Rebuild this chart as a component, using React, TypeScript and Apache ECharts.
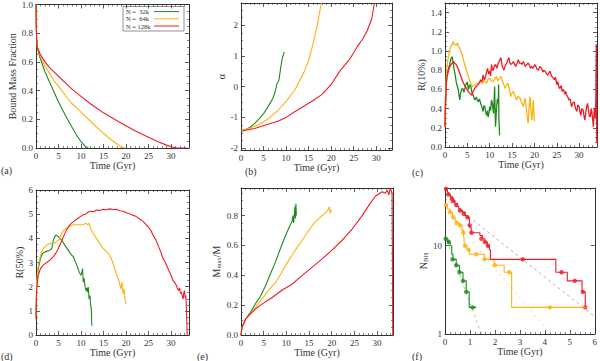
import React, { useEffect, useRef } from 'react';
import * as echarts from 'echarts';

const FONT = "'Liberation Serif', 'DejaVu Serif', serif";
const C_GREEN = '#1e8a1e';
const C_ORANGE = '#fcb414';
const C_RED = '#ee1c24';

const legendLabels = ['N =  32k', 'N =  64k', 'N = 128k'];
const panelLabels = ['(a)', '(b)', '(c)', '(d)', '(e)', '(f)'];

// (a) Bound mass fraction
const massGreen = [[0,1],[0.05,0.86],[0.15,0.76],[0.3,0.7],[0.6,0.66],[1,0.62],[2,0.53],[3,0.46],[4,0.39],[5,0.32],[6,0.26],[7,0.2],[8,0.145],[9,0.09],[10,0.045],[11,0.01],[11.6,0]];
const massOrange = [[0,1],[0.05,0.86],[0.15,0.76],[0.3,0.7],[1,0.64],[2,0.57],[3,0.52],[4,0.47],[5,0.43],[6,0.39],[7,0.345],[8,0.31],[9,0.28],[10,0.25],[12,0.19],[14,0.13],[16,0.075],[18,0.028],[19,0.006],[19.8,0]];
const massRed = [[0,1],[0.05,0.86],[0.15,0.76],[0.3,0.7],[1,0.65],[2,0.6],[3,0.56],[4,0.53],[5,0.5],[6,0.47],[8,0.41],[10,0.36],[12,0.31],[15,0.245],[18,0.19],[20,0.155],[22,0.12],[25,0.075],[27,0.046],[29,0.02],[30,0.01],[31,0.002],[32,0],[33.6,0]];

// (b) alpha
const alphaGreen = [[0,-1.43],[1,-1.4],[2,-1.32],[3,-1.2],[4,-1.05],[5,-0.88],[6,-0.65],[7,-0.4],[7.5,-0.2],[8,0.1],[8.4,0.2],[8.8,0.6],[9.2,0.95],[9.6,1.12]];
const alphaOrange = [[0,-1.43],[2,-1.35],[4,-1.23],[6,-1.05],[8,-0.8],[10,-0.48],[12,-0.1],[13,0.2],[14,0.48],[15,0.85],[16,1.4],[17,2.05],[17.8,2.72]];
const alphaRed = [[0,-1.45],[3,-1.36],[6,-1.22],[8.3,-1.12],[10,-1.0],[12,-0.81],[14,-0.63],[16,-0.45],[18,-0.25],[20,0.07],[22,0.52],[24,0.87],[25,1.1],[26,1.35],[27,1.55],[28,1.82],[29,2.2],[29.6,2.72]];

// (c) R(10%)
const r10Green = [[0,0.21],[0.15,0.49],[0.35,0.73],[0.67,0.8],[1.05,0.86],[1.4,0.93],[1.6,0.94],[1.8,0.89],[2.0,0.82],[2.2,0.77],[2.5,0.68],[2.7,0.64],[2.9,0.61],[3.1,0.55],[3.3,0.49],[3.5,0.56],[3.7,0.6],[4.0,0.61],[4.2,0.57],[4.4,0.6],[4.6,0.64],[4.8,0.66],[5.0,0.68],[5.15,0.62],[5.3,0.6],[5.5,0.65],[5.8,0.63],[6.0,0.57],[6.3,0.54],[6.5,0.51],[6.7,0.49],[7.0,0.52],[7.4,0.47],[7.7,0.5],[8.0,0.45],[8.3,0.41],[8.5,0.37],[8.7,0.43],[8.9,0.42],[9.1,0.36],[9.3,0.33],[9.5,0.38],[9.65,0.31],[9.85,0.36],[10.0,0.42],[10.2,0.38],[10.4,0.49],[10.6,0.45],[10.85,0.35],[11.0,0.5],[11.1,0.63],[11.2,0.4],[11.3,0.21],[11.4,0.3],[11.5,0.385],[11.7,0.5],[11.9,0.455],[12.0,0.65],[12.05,0.3],[12.15,0.2],[12.2,0.12]];
const r10Orange = [[0,0.21],[0.1,0.5],[0.3,0.73],[0.5,0.85],[0.7,0.93],[1.0,0.98],[1.27,1.05],[1.5,1.06],[1.8,1.1],[2.0,1.07],[2.2,1.07],[2.5,1.06],[2.8,1.085],[3.0,1.05],[3.3,1.03],[3.6,0.99],[4.0,0.93],[4.4,0.86],[4.8,0.8],[5.2,0.74],[5.5,0.7],[5.8,0.66],[6.1,0.63],[6.4,0.64],[6.7,0.645],[7.0,0.66],[7.4,0.665],[7.7,0.67],[8.15,0.68],[8.4,0.66],[8.75,0.7],[9.0,0.68],[9.3,0.665],[9.6,0.7],[10,0.72],[10.3,0.69],[10.8,0.68],[11.1,0.71],[11.5,0.735],[11.8,0.69],[12.0,0.7],[12.3,0.72],[12.6,0.735],[12.9,0.68],[13.1,0.66],[13.4,0.61],[13.7,0.64],[14.1,0.665],[14.4,0.6],[14.7,0.525],[15.0,0.56],[15.3,0.58],[15.6,0.54],[16.0,0.49],[16.3,0.53],[16.75,0.51],[17.1,0.47],[17.5,0.42],[17.7,0.46],[17.9,0.51],[18.1,0.44],[18.25,0.385],[18.4,0.3],[18.6,0.245],[18.8,0.4],[19.0,0.525],[19.2,0.42],[19.4,0.28],[19.6,0.36],[19.75,0.49],[19.9,0.32],[20.0,0.27]];
const r10Red = [[0,0.21],[0.1,0.45],[0.25,0.62],[0.45,0.73],[0.8,0.8],[1.1,0.84],[1.4,0.86],[1.7,0.88],[1.95,0.89],[2.2,0.87],[2.5,0.86],[2.9,0.82],[3.3,0.77],[3.6,0.73],[4.0,0.68],[4.4,0.64],[4.8,0.61],[5.2,0.58],[5.5,0.56],[5.8,0.55],[6.05,0.54],[6.3,0.58],[6.65,0.61],[7.0,0.63],[7.4,0.65],[7.7,0.67],[8.0,0.7],[8.3,0.68],[8.5,0.75],[8.8,0.7],[9.0,0.72],[9.3,0.78],[9.5,0.82],[9.8,0.76],[10,0.79],[10.2,0.74],[10.4,0.86],[10.6,0.8],[10.8,0.8],[11.0,0.84],[11.3,0.86],[11.6,0.82],[11.9,0.875],[12.2,0.9],[12.5,0.93],[12.8,0.84],[13.0,0.82],[13.2,0.8],[13.5,0.85],[13.8,0.875],[14.0,0.9],[14.3,0.93],[14.5,0.88],[14.7,0.86],[15.0,0.87],[15.3,0.89],[15.6,0.86],[15.8,0.84],[16.1,0.87],[16.4,0.91],[16.7,0.87],[17.0,0.875],[17.2,0.86],[17.5,0.89],[17.8,0.86],[18.0,0.84],[18.3,0.86],[18.6,0.875],[18.9,0.85],[19.1,0.82],[19.4,0.84],[19.7,0.82],[20.1,0.86],[20.4,0.83],[20.6,0.81],[20.9,0.8],[21.2,0.84],[21.6,0.82],[21.9,0.78],[22.1,0.8],[22.4,0.79],[22.7,0.76],[23.0,0.75],[23.2,0.77],[23.5,0.79],[23.8,0.74],[24.2,0.72],[24.5,0.7],[24.7,0.73],[25.0,0.65],[25.2,0.68],[25.5,0.62],[25.7,0.61],[26.0,0.64],[26.2,0.58],[26.5,0.6],[26.8,0.55],[27.0,0.58],[27.2,0.54],[27.5,0.52],[27.7,0.49],[28.0,0.5],[28.3,0.42],[28.6,0.46],[28.9,0.47],[29.2,0.4],[29.5,0.37],[29.7,0.44],[30.0,0.42],[30.2,0.36],[30.4,0.33],[30.6,0.4],[30.9,0.385],[31.1,0.32],[31.3,0.28],[31.5,0.36],[31.7,0.42],[31.9,0.455],[32.1,0.38],[32.3,0.32],[32.5,0.315],[32.7,0.4],[32.8,0.385],[33.0,0.3],[33.2,0.21],[33.4,0.4],[33.6,0.3],[33.75,0.5],[33.85,1.07],[33.95,0.05]];

// (d) R(50%)
const r50Green = [[0,0.8],[0.15,2.05],[0.5,2.75],[1.0,3.17],[1.5,3.38],[2.0,3.44],[2.5,3.47],[3.0,3.5],[3.5,3.58],[3.85,3.93],[4.4,4.14],[5.0,4.07],[5.7,3.93],[6.4,3.72],[7.2,3.5],[7.9,3.3],[8.3,3.25],[8.6,3.1],[9.2,2.82],[9.6,2.6],[10.0,2.47],[10.2,2.6],[10.35,2.75],[10.5,2.19],[10.7,2.35],[10.9,2.0],[11.1,1.84],[11.3,1.95],[11.4,1.77],[11.6,1.98],[11.8,1.49],[12.0,1.63],[12.1,1.3],[12.3,1.07],[12.4,0.38]];
const r50Orange = [[0,0.8],[0.15,2.19],[0.5,2.89],[1,3.3],[1.6,3.58],[2.4,3.72],[3.1,3.79],[3.85,3.79],[4.6,3.86],[5.3,4.0],[5.7,4.21],[6.2,4.35],[6.8,4.42],[7.5,4.49],[8.3,4.56],[9,4.56],[9.75,4.56],[10.5,4.56],[11.1,4.63],[11.45,4.56],[11.8,4.63],[12.1,4.42],[12.7,4.21],[13.45,4.0],[14.2,3.79],[14.9,3.58],[15.7,3.44],[16.4,3.3],[17,3.03],[17.5,2.75],[18,2.47],[18.5,2.19],[18.85,1.91],[19.1,2.19],[19.35,1.7],[19.55,1.91],[19.8,1.49],[20,1.28]];
const r50Red = [[0,0.65],[0.15,1.91],[0.5,2.47],[1,2.75],[1.6,2.89],[2.4,3.0],[3.1,3.1],[3.85,3.24],[4.6,3.44],[5.3,3.72],[6.1,4.07],[6.8,4.35],[7.5,4.56],[8.4,4.7],[9.4,4.84],[10.5,4.98],[11.0,5.0],[11.6,5.09],[12.3,5.12],[12.8,5.1],[13.45,5.17],[14.2,5.15],[14.9,5.2],[15.6,5.18],[16.4,5.22],[17.1,5.19],[17.9,5.2],[18.6,5.14],[19.4,5.12],[20.1,5.06],[20.8,5.02],[21.5,4.96],[22.3,4.9],[23.0,4.8],[23.8,4.7],[24.4,4.58],[24.9,4.49],[25.5,4.33],[26,4.14],[26.6,3.95],[27.1,3.72],[27.7,3.45],[28.2,3.17],[28.6,3.05],[29,2.89],[29.4,2.72],[29.7,2.6],[30.1,2.42],[30.45,2.26],[30.8,2.18],[31.2,2.05],[31.5,1.9],[31.7,1.84],[31.9,1.95],[32.1,1.72],[32.3,1.77],[32.5,1.62],[32.7,1.49],[32.85,1.75],[33.0,1.84],[33.15,1.55],[33.3,1.63],[33.45,0.9],[33.6,0]];

// (e) Mmax/M
const mmaxGreen = [[0,0],[0.2,0.05],[1,0.106],[2.05,0.15],[3.2,0.21],[4.3,0.26],[5.4,0.33],[6.5,0.41],[7.6,0.49],[8.7,0.58],[9.4,0.635],[10.15,0.69],[10.9,0.74],[11.25,0.76],[11.45,0.8],[11.6,0.75],[11.8,0.83],[11.9,0.86],[12.0,0.78],[12.1,0.88],[12.2,0.8]];
const mmaxOrange = [[0,0],[0.2,0.05],[1,0.106],[2,0.14],[3.2,0.185],[4.6,0.24],[6.1,0.3],[7.6,0.35],[9,0.42],[10.5,0.5],[12,0.57],[13.5,0.635],[14.9,0.7],[16.4,0.76],[17.9,0.8],[19,0.83],[19.5,0.86],[19.7,0.815],[19.9,0.84]];
const mmaxRed = [[0,0],[0.2,0.05],[1,0.106],[2,0.14],[3.2,0.174],[4.6,0.207],[6.8,0.25],[9,0.3],[11.25,0.34],[13.5,0.4],[15.7,0.455],[17.9,0.51],[20.1,0.57],[22.3,0.635],[24.5,0.71],[26.7,0.8],[28.2,0.87],[29.6,0.93],[31.1,0.96],[31.8,0.95],[32.2,0.97],[32.6,0.94],[32.9,0.985],[33.3,0.95],[33.45,0]];

// (f) N_BH (log)
const nbhGreen = [[0,12],[0.12,11],[0.2,10],[0.27,8],[0.32,7],[0.45,6],[0.58,5],[0.72,4],[0.85,3],[0.97,2],[1.25,2]];
const nbhOrange = [[0,29],[0.1,26],[0.2,24],[0.3,21],[0.4,19],[0.5,18],[0.6,17],[0.68,15],[0.74,14],[0.76,12],[0.78,10],[0.88,9],[0.98,8],[1.58,7],[1.97,6],[2.37,5],[2.67,2],[5.68,2]];
const nbhRed = [[0,44],[0.05,42],[0.1,40],[0.15,38],[0.22,36],[0.28,34],[0.33,32],[0.4,30],[0.48,28],[0.55,26],[0.62,25],[0.7,24],[0.8,22],[0.88,21],[0.95,20],[0.98,17],[1.0,16],[1.05,14],[1.4,13],[1.5,12],[1.6,11],[1.7,10],[1.78,9],[1.82,7],[4.44,5],[4.9,4],[5.49,3],[5.62,2]];
const dotGreen = [[0.03,12],[0.15,11],[0.3,7],[0.45,6],[0.58,5],[0.72,4],[0.85,3],[1.11,2]];
const dotOrange = [[0.04,29],[0.2,24],[0.33,21],[0.46,18],[0.6,17],[0.73,14],[0.8,10],[0.95,9],[1.25,8],[1.58,7],[2.0,6],[2.57,5],[4.2,2]];
const dotRed = [[0.04,44],[0.13,38],[0.27,34],[0.33,32],[0.45,29],[0.6,25],[0.75,23],[0.9,21],[0.99,17],[1.06,14],[1.46,12],[1.6,11],[1.72,10],[3.12,7],[4.67,5],[5.2,4],[5.52,3],[5.62,2]];
const fitGreen = [[0,13],[1.46,1]];
const fitOrange = [[0,25.7],[4.22,1]];
const fitRed = [[0,34.8],[6,1.57]];

const grids = [
  { left: 36, top: 3, width: 153, height: 145 },
  { left: 241, top: 3, width: 151, height: 147 },
  { left: 445, top: 3, width: 152, height: 144 },
  { left: 36, top: 190, width: 153, height: 145 },
  { left: 241, top: 188, width: 152, height: 147 },
  { left: 445, top: 188, width: 152, height: 146 },
];

const INK = '#333';
const TXT = '#333';
const axisCommon = {
  axisLine: { show: true, onZero: false, lineStyle: { color: INK, width: 1 } },
  axisTick: { show: true, inside: true, length: 4, lineStyle: { color: INK, width: 0.8 } },
  minorTick: { show: true, length: 2, splitNumber: 5, lineStyle: { color: INK, width: 0.6 } },
  splitLine: { show: false },
  minorSplitLine: { show: false },
};
const labelStyle = { fontFamily: FONT, fontSize: 9, color: TXT };
const subRich = {
  n: { fontFamily: FONT, fontSize: 10, color: TXT },
  s: { fontFamily: FONT, fontSize: 6.5, color: TXT, verticalAlign: 'bottom', padding: [5, 0, 0, 0] },
};

function xPair(g: number, min: number, max: number, splitNumber: number, showMax: boolean) {
  return [
    {
      ...axisCommon, type: 'value', gridIndex: g, position: 'bottom', min, max, splitNumber,
      name: 'Time (Gyr)', nameLocation: 'middle', nameGap: 12,
      nameTextStyle: { fontFamily: FONT, fontSize: 10, color: TXT },
      axisLabel: { ...labelStyle, margin: 3, showMaxLabel: showMax },
    },
    { ...axisCommon, type: 'value', gridIndex: g, position: 'top', min, max, splitNumber, axisLabel: { show: false } },
  ];
}

function yPair(g: number, min: number, max: number, splitNumber: number, name: string, gap: number, fmt: (v: number) => string, extra: any = {}) {
  return [
    {
      ...axisCommon, type: 'value', gridIndex: g, position: 'left', min, max, splitNumber,
      minorTick: { ...axisCommon.minorTick, splitNumber: 4 },
      name, nameLocation: 'middle', nameGap: gap,
      nameTextStyle: { fontFamily: FONT, fontSize: 10, color: TXT, ...(extra.nameTextStyle || {}) },
      axisLabel: { ...labelStyle, margin: 3, showMaxLabel: !!extra.showMax, showMinLabel: extra.showMin !== false, formatter: fmt },
    },
    { ...axisCommon, type: 'value', gridIndex: g, position: 'right', min, max, splitNumber,
      minorTick: { ...axisCommon.minorTick, splitNumber: 4 }, axisLabel: { show: false } },
  ];
}

function line(g: number, data: number[][], color: string, width = 1, extra: any = {}) {
  return {
    type: 'line', xAxisIndex: 2 * g, yAxisIndex: 2 * g, data, showSymbol: false, symbol: 'none',
    lineStyle: { color, width }, itemStyle: { color }, silent: true, ...extra,
  };
}
function dots(g: number, data: number[][], color: string) {
  return { type: 'scatter', xAxisIndex: 2 * g, yAxisIndex: 2 * g, data, symbolSize: 4.5, itemStyle: { color }, silent: true };
}

export default function App() {
  const ref = useRef<HTMLDivElement>(null);
  useEffect(() => {
    document.body.style.margin = '0';
    const chart = echarts.init(ref.current!, null, { renderer: 'svg' });
    const f1 = (v: number) => v.toFixed(1);
    const f0 = (v: number) => String(v);
    const xAxis = [
      ...xPair(0, 0, 34, 7, false),
      ...xPair(1, 0, 33.5, 7, false),
      ...xPair(2, 0, 34, 7, false),
      ...xPair(3, 0, 34, 7, false),
      ...xPair(4, 0, 33.5, 7, false),
      ...xPair(5, 0, 6, 6, true),
    ];
    const logY = (right: boolean) => ({
      ...axisCommon, type: 'log', logBase: 10, gridIndex: 5, position: right ? 'right' : 'left', min: 1, max: 45,
      minorTick: { show: false },
      ...(right ? { axisLabel: { show: false } } : {
        name: '{n|N}{s|BH}', nameLocation: 'middle', nameGap: 12,
        nameTextStyle: { fontFamily: FONT, fontSize: 10, color: TXT, rich: subRich },
        axisLabel: { ...labelStyle, margin: 3, showMaxLabel: false, formatter: (v: number) => (Math.abs(v - 1) < 1e-6 || Math.abs(v - 10) < 1e-6 ? String(Math.round(v)) : '') },
      }),
    });
    const yAxis = [
      ...yPair(0, 0, 1, 5, 'Bound Mass Fraction', 19, f1, { showMax: true }),
      ...yPair(1, -2.06, 2.72, 5, 'α', 12, f0, { showMin: false }),
      ...yPair(2, 0, 1.5, 7, 'R(10%)', 19, f1),
      ...yPair(3, 0, 6, 6, 'R(50%)', 12, f0, { showMax: true }),
      ...yPair(4, 0, 0.985, 5, '{n|M}{s|max}{n|/M}', 19, f1, { nameTextStyle: { rich: subRich } }),
      logY(false),
      logY(true),
    ];
    const series: any[] = [
      line(0, massGreen, C_GREEN, 1.1), line(0, massOrange, C_ORANGE, 1.1), line(0, massRed, C_RED, 1.1),
      line(1, alphaGreen, C_GREEN, 1.1), line(1, alphaOrange, C_ORANGE, 1.1), line(1, alphaRed, C_RED, 1.1),
      line(2, r10Green, C_GREEN, 1.3), line(2, r10Orange, C_ORANGE, 1.3), line(2, r10Red, C_RED, 1.3),
      line(3, r50Green, C_GREEN, 1.1), line(3, r50Orange, C_ORANGE, 1.1), line(3, r50Red, C_RED, 1.1),
      line(4, mmaxGreen, C_GREEN, 1.1), line(4, mmaxOrange, C_ORANGE, 1.1), line(4, mmaxRed, C_RED, 1.1),
      line(5, fitGreen, C_GREEN, 0.8, { lineStyle: { color: C_GREEN, width: 0.8, type: [3, 3], opacity: 0.5 } }),
      line(5, fitOrange, C_ORANGE, 0.8, { lineStyle: { color: C_ORANGE, width: 0.8, type: [3, 3], opacity: 0.55 } }),
      line(5, fitRed, '#b0306a', 0.8, { lineStyle: { color: '#b0306a', width: 0.8, type: [3, 3], opacity: 0.6 } }),
      line(5, nbhGreen, C_GREEN, 1.1, { step: 'end' }),
      line(5, nbhOrange, C_ORANGE, 1.1, { step: 'end' }),
      line(5, nbhRed, C_RED, 1.1, { step: 'end' }),
      dots(5, dotGreen, C_GREEN), dots(5, dotOrange, C_ORANGE), dots(5, dotRed, C_RED),
    ];
    const panelPos = [[1, 170], [245, 171], [412, 172], [1, 356], [197, 356], [412, 356]];
    const graphic: any[] = panelLabels.map((t, i) => ({
      type: 'text', x: panelPos[i][0], y: panelPos[i][1],
      style: { text: t, fontFamily: FONT, fontSize: 10, fill: TXT, verticalAlign: 'middle' },
    }));
    graphic.push({ type: 'rect', shape: { x: 123, y: 6.5, width: 61, height: 24.5 }, style: { fill: '#fff', stroke: '#777', lineWidth: 0.8 } });
    const legColors = [C_GREEN, C_ORANGE, C_RED];
    const rowsY = [11.6, 18.8, 26];
    legendLabels.forEach((t, i) => {
      graphic.push({ type: 'text', x: 126, y: rowsY[i], style: { text: t, fontFamily: FONT, fontSize: 6.5, fill: TXT, verticalAlign: 'middle' } });
      graphic.push({ type: 'line', shape: { x1: 154, y1: rowsY[i], x2: 179, y2: rowsY[i] }, style: { stroke: legColors[i], lineWidth: 1 } });
    });
    chart.setOption({
      animation: false,
      backgroundColor: '#fff',
      grid: grids.map((g) => ({ ...g, containLabel: false })),
      xAxis, yAxis, series, graphic,
    });
    return () => chart.dispose();
  }, []);
  return <div ref={ref} style={{ width: 600, height: 361 }} />;
}
